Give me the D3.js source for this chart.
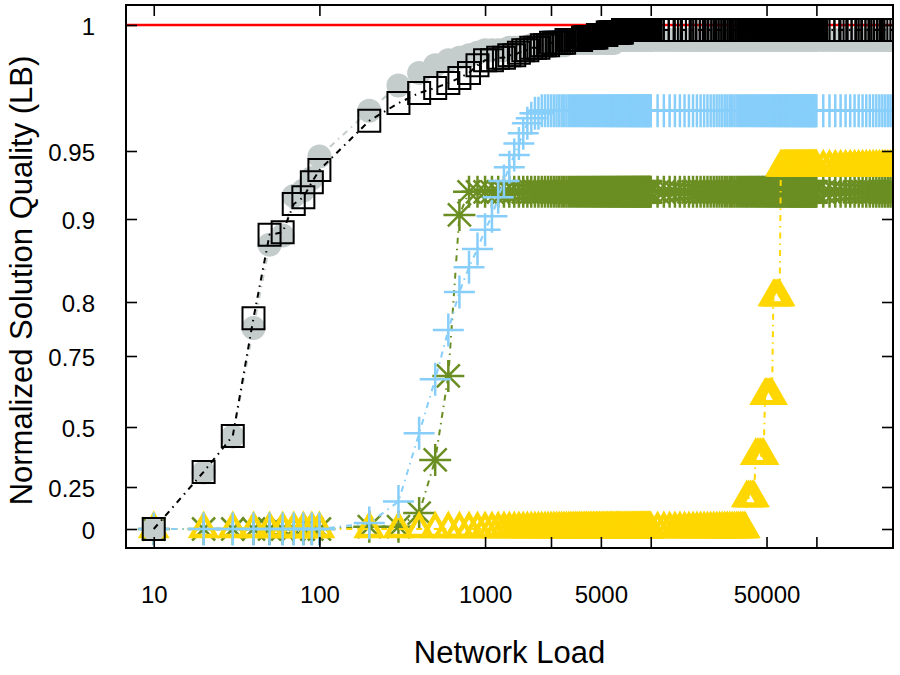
<!DOCTYPE html>
<html>
<head>
<meta charset="utf-8">
<script src="https://cdnjs.cloudflare.com/ajax/libs/d3/7.8.5/d3.min.js"></script>
<style>
  body { margin: 0; background: #fff; }
  svg { display: block; font-family: "Liberation Sans", Arial, Helvetica, sans-serif; }
</style>
</head>
<body>
<svg id="chart" width="900" height="675"></svg>
<script>
// network load values (x), one array per sampling step
const loadsA = [10, 20, 30, 40, 50, 60, 70, 80, 90, 100];
const loadsB = [200, 300, 400, 500, 600, 700, 800, 900, 1000];
const loadsC = [
  1100, 1200, 1300, 1400, 1500, 1600, 1700, 1800, 1900, 2000,
  2100, 2200, 2300, 2400, 2500, 2600, 2700, 2800, 2900, 3000,
  3100, 3200, 3300, 3400, 3500, 3600, 3700, 3800, 3900, 4000,
  4100, 4200, 4300, 4400, 4500, 4600, 4700, 4800, 4900, 5000,
  5100, 5200, 5300, 5400, 5500, 5600, 5700, 5800, 5900, 6000,
  6100, 6200, 6300, 6400, 6500, 6600, 6700, 6800, 6900, 7000,
  7100, 7200, 7300, 7400, 7500, 7600, 7700, 7800, 7900, 8000,
  8100, 8200, 8300, 8400, 8500, 8600, 8700, 8800, 8900, 9000,
  9100, 9200, 9300, 9400, 9500, 9600, 9700, 9800, 9900, 10000];
const loadsD = [
  11000, 12000, 13000, 14000, 15000, 16000, 17000, 18000, 19000, 20000,
  21000, 22000, 23000, 24000, 25000, 26000, 27000, 28000, 29000, 30000,
  31000, 32000, 33000, 34000, 35000, 36000, 37000, 38000, 39000, 40000,
  41000, 42000, 43000, 44000, 45000, 46000, 47000, 48000, 49000, 50000,
  51000, 52000, 53000, 54000, 55000, 56000, 57000, 58000, 59000, 60000,
  61000, 62000, 63000, 64000, 65000, 66000, 67000, 68000, 69000, 70000,
  71000, 72000, 73000, 74000, 75000, 76000, 77000, 78000, 79000, 80000,
  81000, 82000, 83000, 84000, 85000, 86000, 87000, 88000, 89000, 90000,
  91000, 92000, 93000, 94000, 95000, 96000, 97000, 98000, 99000, 100000];
const loadsE = [
  110000, 120000, 130000, 140000, 150000, 160000, 170000, 180000, 190000, 200000,
  210000, 220000, 230000, 240000, 250000, 260000, 270000, 280000, 290000, 300000];

// gray circles
const grayA = [0, 0.31, 0.46, 0.776, 0.869, 0.88, 0.917, 0.921, 0.93, 0.946];
const grayB = [0.966, 0.976, 0.981, 0.984, 0.986, 0.987, 0.988, 0.989, 0.990];
const grayC = [
  .990, .990, .990, .991, .991, .991, .991, .991, .992, .992,
  .992, .992, .992, .992, .992, .992, .992, .992, .992, .992,
  .993, .993, .993, .993, .993, .993, .993, .993, .993, .993,
  .993, .993, .993, .993, .993, .993, .993, .993, .993, .993,
  .993, .993, .993, .993, .993, .993, .993, .993, .993, .993,
  .994, .994, .994, .994, .994, .994, .994, .994, .994, .994,
  .994, .994, .994, .994, .994, .994, .994, .994, .994, .994,
  .994, .994, .994, .994, .994, .994, .994, .994, .994, .994,
  .994, .994, .994, .994, .994, .994, .994, .994, .994, .994];
const grayD = [
  .994, .994, .994, .994, .994, .994, .994, .994, .994, .994,
  .994, .994, .994, .994, .994, .994, .994, .994, .994, .994,
  .994, .994, .994, .994, .994, .994, .994, .994, .994, .994,
  .994, .994, .994, .994, .994, .994, .994, .994, .994, .994,
  .994, .994, .994, .994, .994, .994, .994, .994, .994, .994,
  .994, .994, .994, .994, .994, .994, .994, .994, .994, .994,
  .994, .994, .994, .994, .994, .994, .994, .994, .994, .994,
  .994, .994, .994, .994, .994, .994, .994, .994, .994, .994,
  .994, .994, .994, .994, .994, .994, .994, .994, .994, .994];
const grayE = [
  .994, .994, .994, .994, .994, .994, .994, .994, .994, .994,
  .994, .994, .994, .994, .994, .994, .994, .994, .994, .994];

// black squares
const blackA = [0, 0.313, 0.463, 0.785, 0.881, 0.884, 0.911, 0.916, 0.927, 0.936];
const blackB = [0.962, 0.969, 0.973, 0.975, 0.977, 0.979, 0.981, 0.984, 0.986];
const blackC = [
  .986, .987, .987, .988, .988, .989, .990, .990, .991, .991,
  .991, .992, .992, .992, .993, .993, .993, .993, .993, .993,
  .994, .994, .994, .994, .994, .994, .994, .994, .995, .995,
  .995, .995, .995, .995, .995, .995, .995, .996, .996, .996,
  .996, .996, .996, .996, .997, .997, .997, .997, .997, .997,
  .997, .997, .997, .997, .997, .997, .997, .998, .998, .998,
  .998, .998, .998, .998, .998, .998, .998, .998, .998, .998,
  .998, .998, .998, .998, .998, .998, .998, .998, .998, .998,
  .998, .998, .998, .998, .998, .998, .998, .998, .998, .998];
const blackD = [
  .998, .998, .998, .998, .998, .998, .998, .998, .998, .998,
  .998, .998, .998, .998, .998, .998, .998, .998, .998, .998,
  .998, .998, .998, .998, .998, .998, .998, .998, .998, .998,
  .998, .998, .998, .998, .998, .998, .998, .998, .998, .998,
  .998, .998, .998, .998, .998, .998, .998, .998, .998, .998,
  .998, .998, .998, .998, .998, .998, .998, .998, .998, .998,
  .998, .998, .998, .998, .998, .998, .998, .998, .998, .998,
  .998, .998, .998, .998, .998, .998, .998, .998, .998, .998,
  .998, .998, .998, .998, .998, .998, .998, .998, .998, .998];
const blackE = [
  .998, .998, .998, .998, .998, .998, .998, .998, .998, .998,
  .998, .998, .998, .998, .998, .998, .998, .998, .998, .998];

// light blue pluses
const blueA = [0, 0, 0, 0, 0, 0, 0, 0, 0, 0];
const blueB = [0.035, 0.163, 0.474, 0.668, 0.774, 0.812, 0.842, 0.864, 0.887];
const blueC = [
  .902, .916, .928, .938, .947, .953, .957, .961, .963, .965,
  .965, .966, .966, .966, .966, .966, .966, .966, .966, .966,
  .966, .966, .966, .966, .966, .966, .966, .966, .966, .966,
  .966, .966, .966, .966, .966, .966, .966, .966, .966, .966,
  .966, .966, .966, .966, .966, .966, .966, .966, .966, .966,
  .966, .966, .966, .966, .966, .966, .966, .966, .966, .966,
  .966, .966, .966, .966, .966, .966, .966, .966, .966, .966,
  .966, .966, .966, .966, .966, .966, .966, .966, .966, .966,
  .966, .966, .966, .966, .966, .966, .966, .966, .966, .966];
const blueD = [
  .966, .966, .966, .966, .966, .966, .966, .966, .966, .966,
  .966, .966, .966, .966, .966, .966, .966, .966, .966, .966,
  .966, .966, .966, .966, .966, .966, .966, .966, .966, .966,
  .966, .966, .966, .966, .966, .966, .966, .966, .966, .966,
  .966, .966, .966, .966, .966, .966, .966, .966, .966, .966,
  .966, .966, .966, .966, .966, .966, .966, .966, .966, .966,
  .966, .966, .966, .966, .966, .966, .966, .966, .966, .966,
  .966, .966, .966, .966, .966, .966, .966, .966, .966, .966,
  .966, .966, .966, .966, .966, .966, .966, .966, .966, .966];
const blueE = [
  .966, .966, .966, .966, .966, .966, .966, .966, .966, .966,
  .966, .966, .966, .966, .966, .966, .966, .966, .966, .966];

// olive asterisks
const greenA = [0, 0, 0, 0, 0, 0, 0, 0, 0, 0];
const greenB = [0.014, 0.014, 0.095, 0.363, 0.68, 0.903, 0.92, 0.92, 0.92];
const greenC = [
  .92, .92, .92, .92, .92, .92, .92, .92, .92, .92,
  .92, .92, .92, .92, .92, .92, .92, .92, .92, .92,
  .92, .92, .92, .92, .92, .92, .92, .92, .92, .92,
  .92, .92, .92, .92, .92, .92, .92, .92, .92, .92,
  .92, .92, .92, .92, .92, .92, .92, .92, .92, .92,
  .92, .92, .92, .92, .92, .92, .92, .92, .92, .92,
  .92, .92, .92, .92, .92, .92, .92, .92, .92, .92,
  .92, .92, .92, .92, .92, .92, .92, .92, .92, .92,
  .92, .92, .92, .92, .92, .92, .92, .92, .92, .92];
const greenD = [
  .92, .92, .92, .92, .92, .92, .92, .92, .92, .92,
  .92, .92, .92, .92, .92, .92, .92, .92, .92, .92,
  .92, .92, .92, .92, .92, .92, .92, .92, .92, .92,
  .92, .92, .92, .92, .92, .92, .92, .92, .92, .92,
  .92, .92, .92, .92, .92, .92, .92, .92, .92, .92,
  .92, .92, .92, .92, .92, .92, .92, .92, .92, .92,
  .92, .92, .92, .92, .92, .92, .92, .92, .92, .92,
  .92, .92, .92, .92, .92, .92, .92, .92, .92, .92,
  .92, .92, .92, .92, .92, .92, .92, .92, .92, .92];
const greenE = [
  .92, .92, .92, .92, .92, .92, .92, .92, .92, .92,
  .92, .92, .92, .92, .92, .92, .92, .92, .92, .92];

// gold triangles
const goldA = [0, 0, 0, 0, 0, 0, 0, 0, 0, 0];
const goldB = [0, 0, 0, 0, 0, 0, 0, 0, 0];
const goldC = [
  0, 0, 0, 0, 0, 0, 0, 0, 0, 0,
  0, 0, 0, 0, 0, 0, 0, 0, 0, 0,
  0, 0, 0, 0, 0, 0, 0, 0, 0, 0,
  0, 0, 0, 0, 0, 0, 0, 0, 0, 0,
  0, 0, 0, 0, 0, 0, 0, 0, 0, 0,
  0, 0, 0, 0, 0, 0, 0, 0, 0, 0,
  0, 0, 0, 0, 0, 0, 0, 0, 0, 0,
  0, 0, 0, 0, 0, 0, 0, 0, 0, 0,
  0, 0, 0, 0, 0, 0, 0, 0, 0, 0];
const goldD = [
  0, 0, 0, 0, 0, 0, 0, 0, 0, 0,
  0, 0, 0, 0, 0, 0, 0, 0, 0, 0,
  0, 0, 0, 0, 0, 0, 0, .185, .185, .185,
  .185, .185, .38, .38, .38, .38, .38, .38, .61, .61,
  .61, .61, .61, .61, .806, .806, .806, .806, .806, .806,
  .938, .938, .938, .938, .938, .938, .938, .938, .938, .938,
  .938, .938, .938, .938, .938, .938, .938, .938, .938, .938,
  .938, .938, .938, .938, .938, .938, .938, .938, .938, .938,
  .938, .938, .938, .938, .938, .938, .938, .938, .938, .938];
const goldE = [
  .938, .938, .938, .938, .938, .938, .938, .938, .938, .938,
  .938, .938, .938, .938, .938, .938, .938, .938, .938, .938];

// lower bound reference
const lowerBound = 1;

// axis ticks
const xTicks = [10, 100, 1000, 2500, 5000, 10000, 50000, 100000];
const xTickLabels = [10, 100, 1000, 5000, 50000];
const yTicks = [0, 0.25, 0.5, 0.75, 0.8, 0.9, 0.95, 1];

const loads = [...loadsA, ...loadsB, ...loadsC, ...loadsD, ...loadsE];

const svg = d3.select("#chart");
const margin = { top: 5, right: 7, bottom: 127, left: 126 };
const width = 900 - margin.left - margin.right;
const height = 675 - margin.top - margin.bottom;

const g = svg.append("g")
  .attr("transform", `translate(${margin.left},${margin.top})`);

const x = d3.scaleLog().domain([6.8, 290000]).range([0, width]);
// the value axis is stretched towards 1, so the scale is piecewise
const y = d3.scaleLinear().domain(yTicks).range([524, 482, 422, 351, 297, 214, 146, 20]);

svg.append("defs").append("clipPath").attr("id", "plot-clip")
  .append("rect").attr("width", width).attr("height", height);

const plot = g.append("g").attr("clip-path", "url(#plot-clip)");

// red LB line
plot.append("line")
  .attr("x1", 0).attr("x2", width)
  .attr("y1", y(lowerBound)).attr("y2", y(lowerBound))
  .attr("stroke", "#ff0000")
  .attr("stroke-width", 2.5);

const markers = {
  circle: "M0,-12A12,12 0 1,1 0,12A12,12 0 1,1 0,-12Z",
  square: "M-11,-11H11V11H-11Z",
  plus: "M-15.5,0H15.5M0,-16.5V16.5",
  asterisk: "M-16,0H16M0,-16V16M-11.5,-11.5L11.5,11.5M-11.5,11.5L11.5,-11.5",
  triangle: "M0,-14L-12,7L12,7Z"
};

const series = [
  { values: [...greenA, ...greenB, ...greenC, ...greenD, ...greenE], color: "#6b8e23", marker: "asterisk", fill: "none", sw: 2.5 },
  { values: [...goldA, ...goldB, ...goldC, ...goldD, ...goldE], color: "#ffd700", marker: "triangle", fill: "none", sw: 4.5 },
  { values: [...blueA, ...blueB, ...blueC, ...blueD, ...blueE], color: "#87cefa", marker: "plus", fill: "none", sw: 2.5 },
  { values: [...grayA, ...grayB, ...grayC, ...grayD, ...grayE], color: "#c4cccc", marker: "circle", fill: "#c4cccc", sw: 0 },
  { values: [...blackA, ...blackB, ...blackC, ...blackD, ...blackE], color: "#000000", marker: "square", fill: "none", sw: 2 }
];

const line = d3.line()
  .x(d => x(d[0]))
  .y(d => y(d[1]));

series.forEach(s => {
  const pts = loads.map((l, i) => [l, s.values[i]]);
  const sg = plot.append("g");

  sg.append("path")
    .datum(pts)
    .attr("d", line)
    .attr("fill", "none")
    .attr("stroke", s.color)
    .attr("stroke-width", 2)
    .attr("stroke-dasharray", "6,5,1.5,5");

  sg.selectAll("path.mark")
    .data(pts)
    .enter().append("path")
    .attr("class", "mark")
    .attr("transform", d => `translate(${x(d[0])},${y(d[1])})`)
    .attr("d", markers[s.marker])
    .attr("fill", s.fill)
    .attr("stroke", s.sw ? s.color : "none")
    .attr("stroke-width", s.sw)
    .attr("stroke-linejoin", "miter");
});

// axes (ticks point inward, mirrored on top and right)
const fmtX = d => xTickLabels.includes(d) ? String(d) : "";

const styleAxis = sel => {
  sel.select(".domain").remove();
  sel.selectAll("line").attr("stroke", "#000").attr("stroke-width", 1.6);
  sel.selectAll("text").attr("fill", "#000");
  sel.attr("font-size", 24).attr("font-family", "Liberation Sans, Arial, sans-serif");
};

g.append("g")
  .attr("transform", `translate(0,${height})`)
  .call(d3.axisBottom(x).tickValues(xTicks).tickFormat(fmtX).tickSizeInner(-11).tickSizeOuter(0).tickPadding(38))
  .call(styleAxis);

g.append("g")
  .call(d3.axisTop(x).tickValues(xTicks).tickFormat("").tickSizeInner(-11).tickSizeOuter(0))
  .call(styleAxis);

g.append("g")
  .call(d3.axisLeft(y).tickValues(yTicks).tickFormat(d => String(d)).tickSizeInner(-11).tickSizeOuter(0).tickPadding(31))
  .call(styleAxis)
  .selectAll("text").attr("dy", "0.38em");

g.append("g")
  .attr("transform", `translate(${width},0)`)
  .call(d3.axisRight(y).tickValues(yTicks).tickFormat("").tickSizeInner(-11).tickSizeOuter(0))
  .call(styleAxis);

// frame
g.append("rect")
  .attr("width", width)
  .attr("height", height)
  .attr("fill", "none")
  .attr("stroke", "#000")
  .attr("stroke-width", 2);

// axis labels
svg.append("text")
  .attr("x", margin.left + width / 2)
  .attr("y", 663)
  .attr("text-anchor", "middle")
  .attr("font-size", 31)
  .text("Network Load");

svg.append("text")
  .attr("transform", `translate(32,${margin.top + height / 2 + 4}) rotate(-90)`)
  .attr("text-anchor", "middle")
  .attr("font-size", 31)
  .text("Normalized Solution Quality (LB)");
</script>
</body>
</html>
